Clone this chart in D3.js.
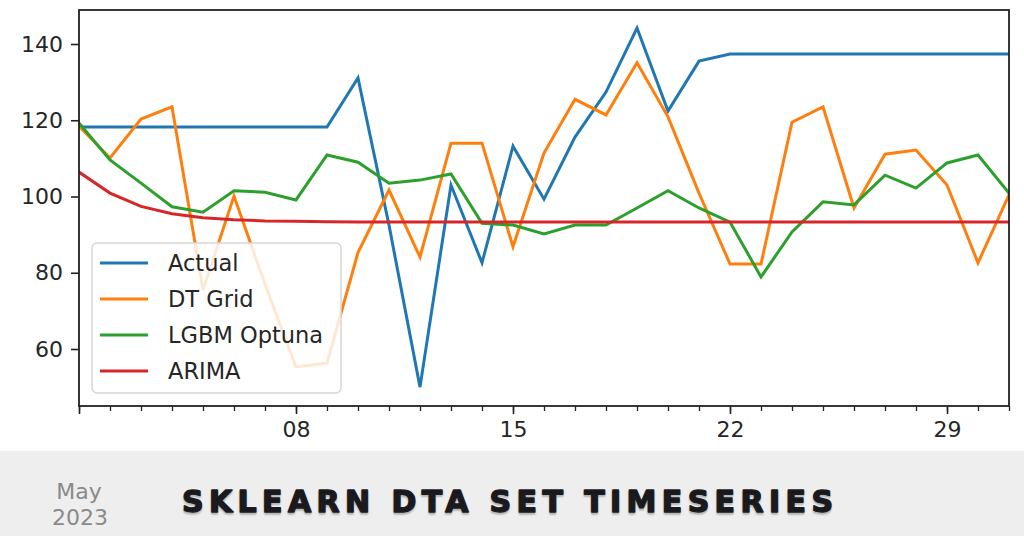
<!DOCTYPE html>
<html>
<head>
<meta charset="utf-8">
<script src="https://cdn.jsdelivr.net/npm/d3@7"></script>
<style>
  html, body { margin: 0; padding: 0; background: #fff; }
  svg { display: block; }
</style>
</head>
<body>
<svg id="chart" width="1024" height="536"></svg>
<script>
// ---- Data ----
const days = d3.range(1, 32); // May 1 .. May 31, 2023
const actual = [118.2,118.2,118.2,118.2,118.2,118.2,118.2,118.2,118.2,131.1,92.5,50.0,103.0,82.6,113.2,99.3,115.6,127.4,144.2,122.4,135.5,137.4,137.4,137.4,137.4,137.4,137.4,137.4,137.4,137.4,137.4];
const dtGrid = [118.5,110.1,120.3,123.5,75.5,100.1,77.0,55.3,56.3,85.3,101.7,84.1,114.0,114.0,86.8,111.4,125.5,121.4,135.1,120.9,100.9,82.3,82.3,119.5,123.5,97.0,111.1,112.2,103.0,82.6,100.4];
const lgbm = [119.3,109.6,103.5,97.3,95.9,101.5,101.1,99.1,110.9,109.0,103.5,104.3,105.9,93.0,92.5,90.2,92.5,92.5,97.0,101.5,97.0,93.3,78.9,90.7,98.6,97.8,105.6,102.2,108.8,110.9,100.9];
const arima = [106.4,100.9,97.4,95.5,94.4,93.9,93.6,93.5,93.4,93.3,93.3,93.3,93.3,93.3,93.3,93.3,93.3,93.3,93.3,93.3,93.3,93.3,93.3,93.3,93.3,93.3,93.3,93.3,93.3,93.3,93.3];
const seriesNames = ["Actual", "DT Grid", "LGBM Optuna", "ARIMA"];
const seriesColors = ["#1f77b4", "#ff7f0e", "#2ca02c", "#d62728"];
const yTicks = [60, 80, 100, 120, 140];
const xMajorDays = [8, 15, 22, 29];
const xMajorLabels = ["08", "15", "22", "29"];
const monthLabel = ["May", "2023"];
const title = "SKLEARN DTA SET TIMESERIES";

// ---- Layout ----
const svg = d3.select("#chart");
const L = 79, R = 1009, T = 10, B = 406;
const x = d3.scaleTime().domain([new Date(2023, 4, 1), new Date(2023, 4, 31)]).range([L, R]);
const y = d3.scaleLinear().domain([45.05, 148.92]).range([B, T]);
const dates = days.map(d => new Date(2023, 4, d));
const font = "'DejaVu Sans', sans-serif";

// clip
svg.append("defs").append("clipPath").attr("id", "clip")
  .append("rect").attr("x", L).attr("y", T).attr("width", R - L).attr("height", B - T);

// series lines
const allSeries = [actual, dtGrid, lgbm, arima];
const line = d3.line().x((d, i) => x(dates[i])).y(d => y(d));
const g = svg.append("g").attr("clip-path", "url(#clip)");
allSeries.forEach((s, k) => {
  g.append("path").datum(s)
    .attr("d", line)
    .attr("fill", "none")
    .attr("stroke", seriesColors[k])
    .attr("stroke-width", 3)
    .attr("stroke-linejoin", "miter")
    .attr("stroke-linecap", "square");
});

// Y axis
const yAxis = svg.append("g").attr("transform", `translate(${L},0)`)
  .call(d3.axisLeft(y).tickValues(yTicks).tickSize(8).tickPadding(8).tickFormat(d3.format("d")));
yAxis.select(".domain").remove();
yAxis.selectAll(".tick line").attr("stroke", "#222").attr("stroke-width", 1.6);
yAxis.selectAll(".tick text").attr("font-family", font).attr("font-size", 22).attr("fill", "#262626");

// X axis minor ticks
const xMinor = svg.append("g").attr("transform", `translate(0,${B})`)
  .call(d3.axisBottom(x).tickValues(dates).tickSize(5).tickFormat(""));
xMinor.select(".domain").remove();
xMinor.selectAll(".tick line").attr("stroke", "#222").attr("stroke-width", 1.3);

// X axis major ticks
const majorDates = [new Date(2023, 4, 1)].concat(xMajorDays.map(d => new Date(2023, 4, d)));
const majorLabels = [""].concat(xMajorLabels);
const xMajor = svg.append("g").attr("transform", `translate(0,${B})`)
  .call(d3.axisBottom(x).tickValues(majorDates).tickSize(8).tickPadding(7)
    .tickFormat((d, i) => majorLabels[i]));
xMajor.select(".domain").remove();
xMajor.selectAll(".tick line").attr("stroke", "#222").attr("stroke-width", 1.6);
xMajor.selectAll(".tick text").attr("font-family", font).attr("font-size", 22).attr("fill", "#262626");

// frame
svg.append("rect").attr("x", L).attr("y", T).attr("width", R - L).attr("height", B - T)
  .attr("fill", "none").attr("stroke", "#222").attr("stroke-width", 1.8);

// Legend
const lg = svg.append("g");
lg.append("rect").attr("x", 92).attr("y", 243).attr("width", 249).attr("height", 150).attr("rx", 5)
  .attr("fill", "#fff").attr("fill-opacity", 0.82).attr("stroke", "#d6d6d6").attr("stroke-width", 1.5);
seriesNames.forEach((n, k) => {
  const cy = 263 + k * 36;
  lg.append("line").attr("x1", 100).attr("x2", 148).attr("y1", cy).attr("y2", cy)
    .attr("stroke", seriesColors[k]).attr("stroke-width", 3);
  lg.append("text").attr("x", 168).attr("y", cy).attr("dy", "0.36em")
    .attr("font-family", font).attr("font-size", 22.5).attr("fill", "#262626").text(n);
});

// Bottom band
svg.append("rect").attr("x", 0).attr("y", 451).attr("width", 1024).attr("height", 85).attr("fill", "#eeeeef");
svg.append("text").attr("x", 79).attr("y", 499).attr("text-anchor", "middle")
  .attr("font-family", font).attr("font-size", 22).attr("fill", "#8a8a8a").text(monthLabel[0]);
svg.append("text").attr("x", 80).attr("y", 525).attr("text-anchor", "middle")
  .attr("font-family", font).attr("font-size", 22).attr("fill", "#8a8a8a").text(monthLabel[1]);
svg.append("text").attr("x", 182).attr("y", 512)
  .attr("font-family", "'DejaVu Sans', sans-serif").attr("font-weight", "bold")
  .attr("font-size", 30).attr("fill", "#1b1b20")
  .attr("stroke", "#1b1b20").attr("stroke-width", 1.4).attr("stroke-linejoin", "round")
  .attr("textLength", 651).attr("lengthAdjust", "spacing")
  .style("text-shadow", "0 2px 2px rgba(0,0,0,0.2)")
  .text(title);
</script>
</body>
</html>
